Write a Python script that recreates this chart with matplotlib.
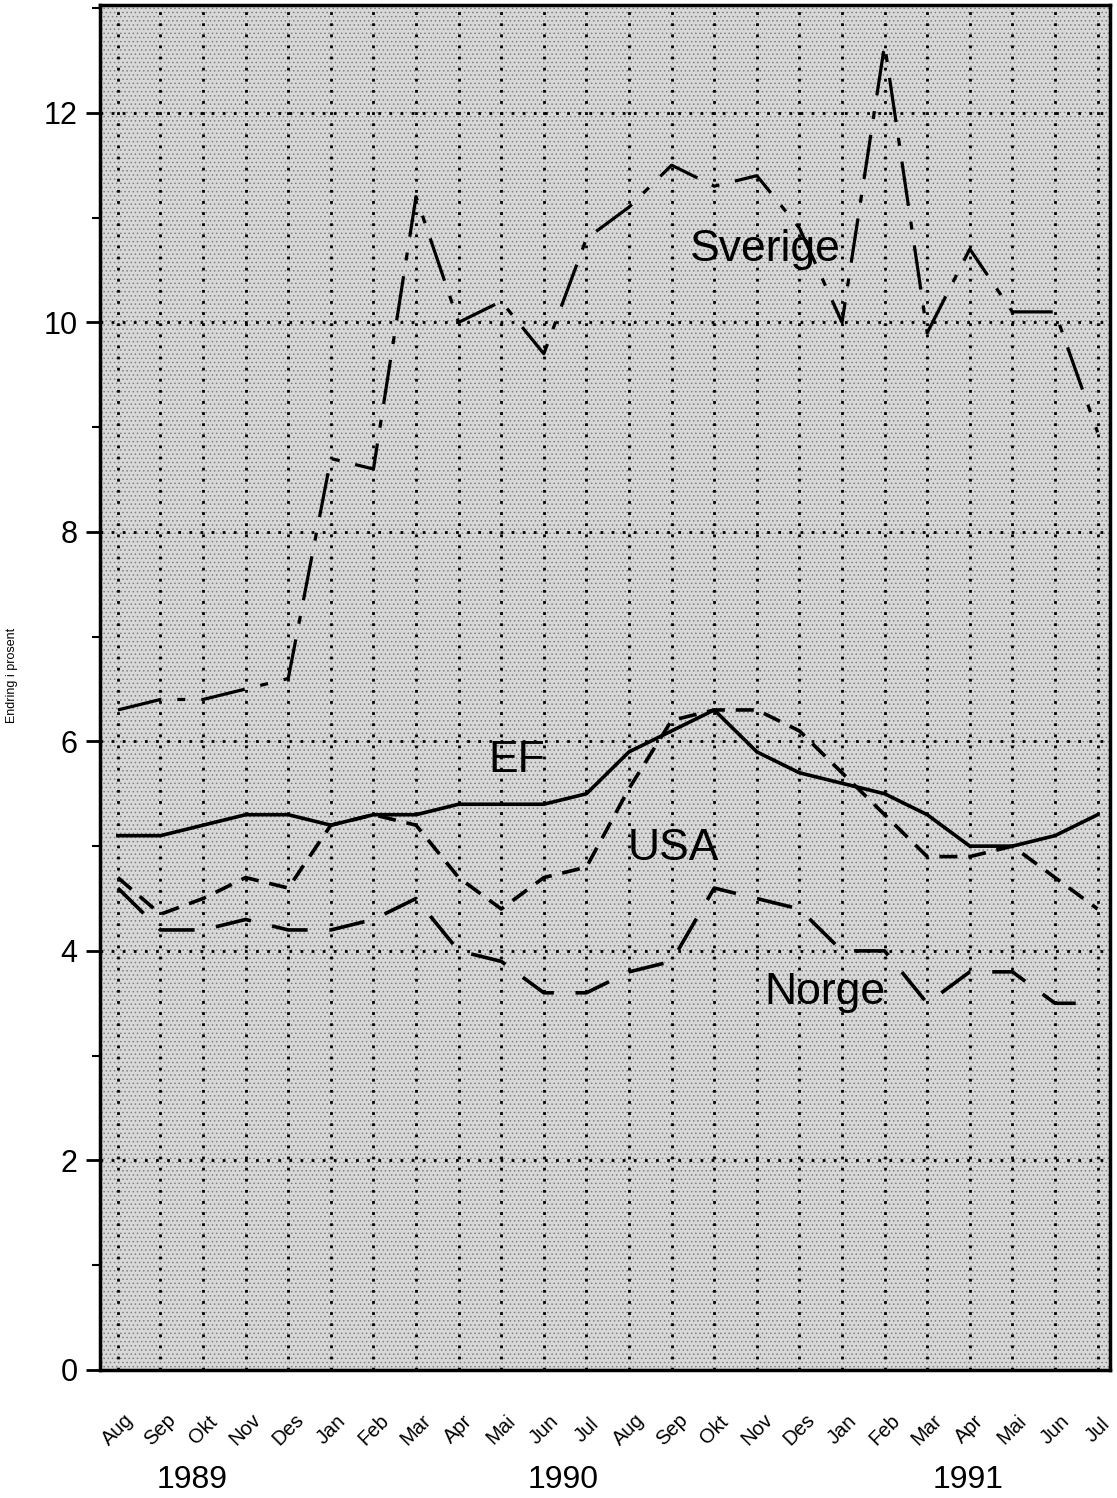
import numpy as np
import matplotlib
matplotlib.use("Agg")
import matplotlib.pyplot as plt
from matplotlib.ticker import MultipleLocator

plt.rcParams['font.family'] = ['Liberation Sans', 'DejaVu Sans']
plt.rcParams['hatch.linewidth'] = 0.6

# Data (endring i prosent), Aug 1989 - Jul 1991
months = ["Aug", "Sep", "Okt", "Nov", "Des", "Jan", "Feb", "Mar", "Apr", "Mai", "Jun", "Jul",
          "Aug", "Sep", "Okt", "Nov", "Des", "Jan", "Feb", "Mar", "Apr", "Mai", "Jun", "Jul"]
years = ["1989", "1990", "1991"]
year_pos = [1.75, 10.45, 19.95]

sverige = [6.3, 6.4, 6.4, 6.5, 6.6, 8.7, 8.6, 11.2, 10.0, 10.2, 9.7, 10.8,
           11.1, 11.5, 11.3, 11.4, 10.9, 10.0, 12.65, 9.9, 10.7, 10.1, 10.1, 8.95]
ef = [5.1, 5.1, 5.2, 5.3, 5.3, 5.2, 5.3, 5.3, 5.4, 5.4, 5.4, 5.5,
      5.9, 6.1, 6.3, 5.9, 5.7, 5.6, 5.5, 5.3, 5.0, 5.0, 5.1, 5.3]
usa = [4.7, 4.35, 4.5, 4.7, 4.6, 5.2, 5.3, 5.2, 4.7, 4.4, 4.7, 4.8,
       5.55, 6.2, 6.3, 6.3, 6.1, 5.7, 5.3, 4.9, 4.9, 5.0, 4.7, 4.4]
norge = [4.6, 4.2, 4.2, 4.3, 4.2, 4.2, 4.3, 4.5, 4.0, 3.9, 3.6, 3.6,
         3.8, 3.9, 4.6, 4.5, 4.4, 4.0, 4.0, 3.5, 3.8, 3.8, 3.5, 3.5]

x = np.arange(len(months))

fig = plt.figure(figsize=(11.17, 14.98), dpi=100)
ax = fig.add_axes([0.0895, 0.0855, 0.9042, 0.9112])

# stipple background
ax.set_facecolor('#d8d8d8')
ax.patch.set_hatch('....')
ax.patch.set_edgecolor('#808080')

ax.plot(x, sverige, color='black', lw=2.3, dashes=[14, 5, 2.5, 5])
ax.plot(x, ef, color='black', lw=2.6, linestyle='-')
ax.plot(x, usa, color='black', lw=2.6, dashes=[5, 3])
ax.plot(x, norge, color='black', lw=2.6, dashes=[10, 6])

# prikkete rutenett
for xi in x:
    ax.axvline(xi, color='black', lw=2.0, linestyle=(0, (1, 3)), zorder=1)
for yi in range(2, 13, 2):
    ax.axhline(yi, color='black', lw=2.0, linestyle=(0, (1, 3)), zorder=1)

# serienavn
ax.text(15.2, 10.7, "Sverige", fontsize=32, ha='center', va='center')
ax.text(9.37, 5.82, "EF", fontsize=32, ha='center', va='center')
ax.text(13.05, 4.98, "USA", fontsize=32, ha='center', va='center')
ax.text(16.6, 3.6, "Norge", fontsize=32, ha='center', va='center')

ax.set_xlim(-0.42, 23.29)
ax.set_ylim(0, 13.03)

ax.yaxis.set_major_locator(MultipleLocator(2))
ax.yaxis.set_minor_locator(MultipleLocator(1))
ax.tick_params(axis='y', which='major', direction='out', length=10, width=2, labelsize=22, pad=6)
ax.tick_params(axis='y', which='minor', direction='out', length=6, width=1.5)
ax.tick_params(axis='y', which='both', right=False)

ax.set_xticks(x)
ax.set_xticklabels(months, rotation=45, ha='center', va='center', rotation_mode='anchor', fontsize=14.5)
ax.tick_params(axis='x', length=0, pad=43)

for s in ax.spines.values():
    s.set_linewidth(2.5)

ax.set_ylabel("Endring i prosent", fontsize=9)
ax.yaxis.set_label_coords(-0.081, 0.509)

for yr, xp in zip(years, year_pos):
    ax.text(xp, -1.05, yr, fontsize=23, ha='center', va='center')

fig.savefig("out.png", dpi=100)
